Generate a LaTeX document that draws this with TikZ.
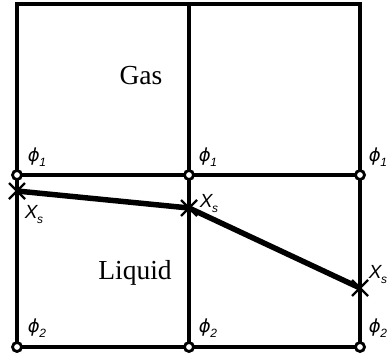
\documentclass[tikz,border=0pt]{standalone}
\usepackage{fontspec}
\setmainfont{Liberation Serif}
\newfontfamily\lsans{Liberation Sans}
\newfontfamily\dvs{DejaVu Sans}
\newcommand{\labsub}[2]{#1\kern-0.5pt\raisebox{-5pt}{\lsans\itshape\fontsize{12}{12}\selectfont #2}}
\newcommand{\phisym}{{\dvs\itshape\fontsize{18}{18}\selectfont ϕ}}
\begin{document}
\begin{tikzpicture}[x=1pt,y=-1pt,
  grid/.style={line width=3.8pt},
  pt/.style={circle,draw,fill=white,line width=2.8pt,minimum size=9pt,inner sep=0pt},
  cross/.style={line width=2.2pt},
  iface/.style={line width=5.5pt},
  lab/.style={font=\lsans\itshape\fontsize{19}{19}\selectfont,inner sep=0pt},
  big/.style={font=\fontsize{27.5}{27.5}\selectfont,inner sep=0pt}]
\useasboundingbox (0,0) rectangle (390,358);
\coordinate (tl) at (17,4);
\coordinate (tm) at (189,4);
\coordinate (tr) at (360,4);
\coordinate (ml) at (17,175);
\coordinate (mm) at (189,175);
\coordinate (mr) at (360,175);
\coordinate (bl) at (17,347);
\coordinate (bm) at (189,347);
\coordinate (br) at (360,347);
\draw[grid] (tl) -- (tr) -- (br) -- (bl) -- cycle;
\draw[grid] (tm) -- (bm);
\draw[grid] (ml) -- (mr);
\coordinate (x1) at (17,191);
\coordinate (x2) at (189,208);
\coordinate (x3) at (360,288);
\draw[iface] (x1) -- (x2) -- (x3);
\foreach \c in {x1,x2,x3}{
  \draw[cross] ([shift={(-8,-8)}]\c) -- ([shift={(8,8)}]\c);
  \draw[cross] ([shift={(-8,8)}]\c) -- ([shift={(8,-8)}]\c);
}
\foreach \c in {ml,mm,mr,bl,bm,br}{ \node[pt] (p\c) at (\c) {}; }
\node[lab] (f1a) at (37,157) {\labsub{\phisym}{1}};
\node[lab] (f1b) at (208,157) {\labsub{\phisym}{1}};
\node[lab] (f1c) at (378,157) {\labsub{\phisym}{1}};
\node[lab] (f2a) at (37,328) {\labsub{\phisym}{2}};
\node[lab] (f2b) at (208,328) {\labsub{\phisym}{2}};
\node[lab] (f2c) at (378,328) {\labsub{\phisym}{2}};
\node[lab] (xa) at (34,215) {\labsub{X}{s}};
\node[lab] (xb) at (209,204) {\labsub{X}{s}};
\node[lab] (xc) at (378,275) {\labsub{X}{s}};
\node[big] (gas) at (141,76) {Gas};
\node[big] (liq) at (135,273) {Liquid};
\end{tikzpicture}
\end{document}
